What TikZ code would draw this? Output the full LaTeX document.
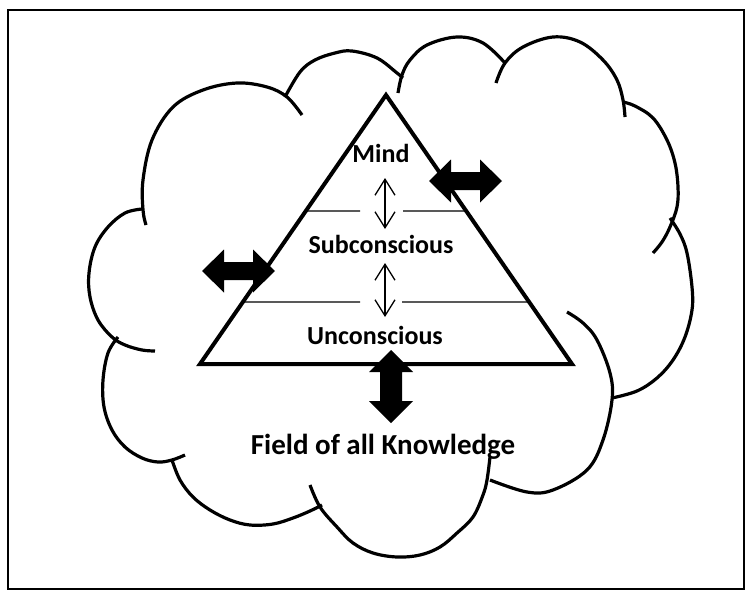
\documentclass[tikz,border=0pt]{standalone}
\usepackage{fontspec}
\setmainfont{Carlito}
\usetikzlibrary{arrows.meta,calc}
\begin{document}
\begin{tikzpicture}[x=1pt,y=-1pt,
  cloudline/.style={line width=3.2pt, line cap=butt, line join=round},
  tri/.style={line width=4pt, line join=miter},
  divider/.style={line width=1.3pt},
  thinarrow/.style={line width=1.3pt, {Straight Barb[length=16pt,width=20pt]}-{Straight Barb[length=16pt,width=20pt]}},
  lbl/.style={font=\fontsize{26}{30}\selectfont\bfseries, inner sep=0pt, anchor=base},
  biglbl/.style={font=\fontsize{29}{34}\selectfont\bfseries, inner sep=0pt, anchor=base},
  hblockarrow/.pic={\fill (-36.5,0) -- ++(22,-21.5) -- ++(0,12.5) -- ++(29,0) -- ++(0,-12.5) -- ++(22,21.5) -- ++(-22,21.5) -- ++(0,-12.5) -- ++(-29,0) -- ++(0,12.5) -- cycle;},
  vblockarrow/.pic={\fill (0,-36.5) -- ++(22,22) -- ++(-11,0) -- ++(0,29) -- ++(11,0) -- ++(-22,22) -- ++(-22,-22) -- ++(11,0) -- ++(0,-29) -- ++(-11,0) -- cycle;},
]
\useasboundingbox (0,0) rectangle (753,597);
% frame
\draw[line width=2pt] (7.5,10.3) rectangle (744,589);

% cloud lobes
\draw[cloudline] plot[smooth, tension=0.6] coordinates {(146,225) (143,210) (143,180) (152,140) (173,107) (203,90) (237,83) (267,87) (287,97) (302,115)};
\draw[cloudline] plot[smooth, tension=0.6] coordinates {(142,209) (125,213) (108,227) (95,247) (89,273) (90,297) (98,320) (112,337) (125,345) (142,350) (155,351)};
\draw[cloudline] plot[smooth, tension=0.6] coordinates {(118,337) (108,353) (103,380) (104,407) (112,430) (125,447) (142,458) (158,462) (172,460) (185,455)};
\draw[cloudline] plot[smooth, tension=0.6] coordinates {(172,460) (180,480) (193,497) (210,510) (230,520) (250,525) (273,524) (293,518) (310,511) (322,505)};
\draw[cloudline] plot[smooth, tension=0.6] coordinates {(310,485) (320,507) (337,527) (353,543) (373,553) (397,557) (420,555) (440,547) (457,533) (473,517) (483,495) (487,480) (490,457)};
\draw[cloudline] plot[smooth, tension=0.6] coordinates {(490,480) (527,492) (553,490) (587,470) (603,440) (612,400) (610,373) (597,340) (583,323) (567,312)};
\draw[cloudline] plot[smooth, tension=0.6] coordinates {(612,398) (637,391) (657,378) (673,360) (685,337) (692,310) (692,287) (687,253) (680,234) (670,218)};
\draw[cloudline] plot[smooth, tension=0.6] coordinates {(623,102) (635,106) (653,118) (667,140) (675,163) (678,187) (677,207) (670,227) (662,242) (653,253)};
\draw[cloudline] plot[smooth, tension=0.6] coordinates {(496,83) (505,63) (523,47) (553,37) (580,42) (603,60) (617,80) (623,100) (625,117)};
\draw[cloudline] plot[smooth, tension=0.6] coordinates {(398,93) (402,75) (410,60) (427,45) (457,37) (483,43) (505,63)};
\draw[cloudline] plot[smooth, tension=0.6] coordinates {(285,97) (300,72) (315,60) (335,53) (352,51) (377,58) (397,73) (403,78)};

% triangle
\coordinate (apex) at (386,95);
\coordinate (bl) at (200,364);
\coordinate (br) at (572,364);
\fill[white] (apex) -- (bl) -- (br) -- cycle;

% dividers
\coordinate (u1) at ($(apex)!0.431!(bl)$);
\coordinate (u2) at ($(apex)!0.431!(br)$);
\coordinate (ug1) at (360,211);
\coordinate (ug2) at (403,211);
\coordinate (l1) at ($(apex)!0.7695!(bl)$);
\coordinate (l2) at ($(apex)!0.7695!(br)$);
\coordinate (lg1) at (360,302);
\coordinate (lg2) at (402,302);
\draw[divider] (u1) -- (ug1);
\draw[divider] (ug2) -- (u2);
\draw[divider] (l1) -- (lg1);
\draw[divider] (lg2) -- (l2);

\draw[tri] (apex) -- (bl) -- (br) -- cycle;

% thin arrows between layers
\coordinate (ta1) at (385,178);
\coordinate (tb1) at (385,229);
\coordinate (ta2) at (385,263);
\coordinate (tb2) at (385,317);
\draw[thinarrow] (ta1) -- (tb1);
\draw[thinarrow] (ta2) -- (tb2);

% block arrows
\coordinate (rarrow) at (465.5,181);
\coordinate (larrow) at (238.5,271);
\coordinate (darrow) at (391,386.5);
\pic at (rarrow) {hblockarrow};
\pic at (larrow) {hblockarrow};
\pic at (darrow) {vblockarrow};

% labels
\node[lbl] (mind) at (381,162) {Mind};
\node[lbl] (sub) at (381,253) {Subconscious};
\node[lbl] (unc) at (375,344) {Unconscious};
\node[biglbl] (field) at (383,454) {Field of all Knowledge};
\end{tikzpicture}
\end{document}
